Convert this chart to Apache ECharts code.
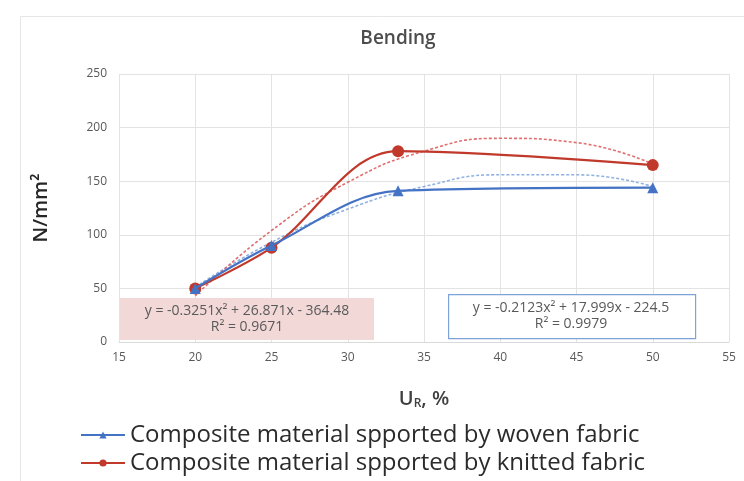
<!DOCTYPE html>
<html>
<head>
<meta charset="utf-8">
<script src="https://cdn.jsdelivr.net/npm/echarts@6/dist/echarts.min.js"></script>
<style>
    html, body { margin: 0; padding: 0; background: #fff; }
    #chart { width: 744px; height: 481px; }
</style>
</head>
<body>
<div id="chart"></div>
<script>
// measured points
const wovenX = [20, 25, 33.3, 50]
const wovenY = [50, 90, 141, 144]
const knittedX = [20, 25, 33.3, 50]
const knittedY = [50, 88, 178, 165]

// dotted polynomial trendlines
const trendX = [20, 25, 30, 35, 40, 45, 50]
const wovenTrend = [51, 93, 124, 145, 156, 156, 145]
const knittedTrend = [43, 104, 149, 178, 190, 186, 166]

const wovenEq = ['y = -0.2123x² + 17.999x - 224.5', 'R² = 0.9979']
const knittedEq = ['y = -0.3251x² + 26.871x - 364.48', 'R² = 0.9671']

const legendNames = [
    'Composite material spported by woven fabric',
    'Composite material spported by knitted fabric',
]

const BLUE = '#4472c4'
const RED = '#c0392b'
const FONT = 'Open Sans'

function pairs(xs, ys) {
    return xs.map((x, i) => [x, ys[i]])
}

const chart = echarts.init(document.getElementById('chart'))
chart.setOption({
    animation: false,
    textStyle: { fontFamily: FONT },
    title: {
        text: 'Bending',
        left: 393,
        top: 24,
        textAlign: 'center',
        textStyle: { fontSize: 19, fontWeight: 600, color: '#4d4d4d', fontFamily: FONT },
    },
    grid: { left: 119, right: 15, top: 74, bottom: 139 },
    xAxis: {
        type: 'value',
        min: 15,
        max: 55,
        interval: 5,
        name: 'U{s|R}, %',
        nameLocation: 'middle',
        nameGap: 46,
        nameTextStyle: {
            fontSize: 20,
            fontWeight: 600,
            color: '#404040',
            rich: { s: { fontSize: 12, fontWeight: 600, color: '#404040', verticalAlign: 'bottom', padding: [10, 0, 0, 0] } },
        },
        axisLine: { show: true, lineStyle: { color: '#d9d9d9' } },
        axisTick: { show: false },
        axisLabel: { color: '#595959', fontSize: 12, margin: 10 },
        splitLine: { show: true, lineStyle: { color: '#e3e3e3' } },
    },
    yAxis: {
        type: 'value',
        min: 0,
        max: 250,
        interval: 50,
        name: 'N/mm²',
        nameLocation: 'middle',
        nameGap: 68,
        nameTextStyle: { fontSize: 20, fontWeight: 600, color: '#262626' },
        axisLine: { show: false },
        axisTick: { show: false },
        axisLabel: { color: '#595959', fontSize: 12, margin: 12 },
        splitLine: { show: true, lineStyle: { color: '#e3e3e3' } },
    },
    legend: {
        data: legendNames,
        orient: 'vertical',
        left: 80,
        top: 423,
        padding: 0,
        itemWidth: 44,
        itemHeight: 9,
        itemGap: 4,
        textStyle: { fontSize: 24, lineHeight: 24, color: '#2b2b2b', fontFamily: FONT },
    },
    series: [
        {
            name: 'woven trend',
            type: 'line',
            data: pairs(trendX, wovenTrend),
            smooth: 0.5,
            symbol: 'none',
            lineStyle: { color: '#8fb0e0', width: 1.6, type: [3, 2] },
            z: 1,
        },
        {
            name: 'knitted trend',
            type: 'line',
            data: pairs(trendX, knittedTrend),
            smooth: 0.5,
            symbol: 'none',
            lineStyle: { color: '#e07070', width: 1.6, type: [3, 2] },
            z: 1,
        },
        {
            name: legendNames[0],
            type: 'line',
            data: pairs(wovenX, wovenY),
            smooth: 0.35,
            symbol: 'triangle',
            symbolSize: 11,
            itemStyle: { color: BLUE },
            lineStyle: { color: BLUE, width: 2.2 },
            z: 3,
        },
        {
            name: legendNames[1],
            type: 'line',
            data: pairs(knittedX, knittedY),
            smooth: 0.35,
            symbol: 'circle',
            symbolSize: 12,
            itemStyle: { color: RED },
            lineStyle: { color: RED, width: 2.2 },
            z: 2,
        },
    ],
    graphic: [
        {
            type: 'rect',
            left: 18,
            top: 14,
            shape: { width: 740, height: 470 },
            style: { fill: 'none', stroke: '#e6e6e6', lineWidth: 1 },
            silent: true,
            z: -1,
        },
        {
            type: 'rect',
            left: 120,
            top: 298,
            shape: { width: 254, height: 42 },
            style: { fill: '#f2d9d7' },
            z: 5,
        },
        {
            type: 'text',
            x: 247,
            y: 303,
            style: {
                text: knittedEq.join('\n'),
                align: 'center',
                fill: '#595959',
                fontSize: 14,
                lineHeight: 16,
                fontFamily: FONT,
            },
            z: 6,
        },
        {
            type: 'rect',
            left: 448,
            top: 294,
            shape: { width: 247, height: 44 },
            style: { fill: '#fff', stroke: '#7ea3d6', lineWidth: 1.2 },
            z: 5,
        },
        {
            type: 'text',
            x: 571,
            y: 300,
            style: {
                text: wovenEq.join('\n'),
                align: 'center',
                fill: '#595959',
                fontSize: 14,
                lineHeight: 16,
                fontFamily: FONT,
            },
            z: 6,
        },
    ],
})
</script>
</body>
</html>
